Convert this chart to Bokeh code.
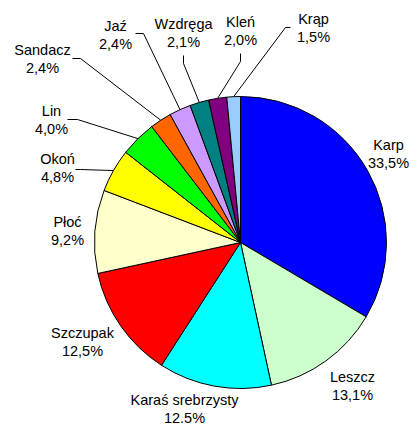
import math
from bokeh.plotting import figure
from bokeh.models import ColumnDataSource
from bokeh.core.properties import value
from bokeh.embed import file_html
from bokeh.resources import INLINE

# ---- data ----
species = ["Karp", "Leszcz", "Karaś srebrzysty", "Szczupak", "Płoć", "Okoń",
           "Lin", "Sandacz", "Jaź", "Wzdręga", "Kleń", "Krąp"]
shares = [33.5, 13.1, 12.5, 12.5, 9.2, 4.8, 4.0, 2.4, 2.4, 2.1, 2.0, 1.5]
pct_labels = ["33,5%", "13,1%", "12.5%", "12,5%", "9,2%", "4,8%",
              "4,0%", "2,4%", "2,4%", "2,1%", "2,0%", "1,5%"]
colors = ["#0000FF", "#CCFFCC", "#00FFFF", "#FF0000", "#FFFFCC", "#FFFF00",
          "#00FF00", "#FF6600", "#CC99FF", "#008080", "#800080", "#99CCFF"]

# ---- layout (page pixel coordinates) ----
W, H = 411, 425
CX, CY, R = 240, 242, 146
label_pos = [(388, 144), (352, 376), (184, 399), (82, 332), (67, 221), (57, 158),
             (51, 110), (42, 49), (115, 25), (183, 23), (240, 21), (313, 18)]
LINE_GAP = 18
# leader line starting segments near labels (None = no leader)
leader_start = [None, None, None, None, None,
                [(75, 169), (80, 169)],
                [(67, 119), (77, 119)],
                [(72, 58), (80, 58)],
                [(135, 33), (143, 33)],
                [(183, 55), (183, 63)],
                [(240, 53), (240, 61)],
                [(290, 27), (285, 27)]]


def Y(py):
    return H - py


total = sum(shares)
starts, ends, mids = [], [], []
acc = 0.0
for s in shares:
    f0 = acc / total
    acc += s
    f1 = acc / total
    starts.append(math.pi / 2 - 2 * math.pi * f0)
    ends.append(math.pi / 2 - 2 * math.pi * f1)
    mids.append((f0 + f1) / 2)

p = figure(width=W, height=H, x_range=(0, W), y_range=(0, H),
           output_backend="svg", toolbar_location=None, min_border=0)
p.axis.visible = False
p.grid.visible = False
p.outline_line_color = None
p.background_fill_color = "white"

src = ColumnDataSource(dict(x=[CX] * len(shares), y=[Y(CY)] * len(shares),
                            start=starts, end=ends, color=colors))
p.wedge(x="x", y="y", radius=R, radius_units="screen", start_angle="start",
        end_angle="end", direction="clock", fill_color="color",
        line_color="black", line_width=1, source=src)

# leader lines
for i, seg in enumerate(leader_start):
    if seg is None:
        continue
    a = 2 * math.pi * mids[i]
    ex = CX + R * math.sin(a)
    ey = CY - R * math.cos(a)
    xs = [pt[0] for pt in seg] + [ex]
    ys = [Y(pt[1]) for pt in seg] + [Y(ey)]
    p.line(xs, ys, line_color="black", line_width=1)

font = value("Liberation Sans")
p.text(x=[lp[0] for lp in label_pos], y=[Y(lp[1]) for lp in label_pos], text=species,
       text_align="center", text_baseline="middle", text_font=font,
       text_font_size="14.5px", text_color="black")
p.text(x=[lp[0] for lp in label_pos], y=[Y(lp[1] + LINE_GAP) for lp in label_pos],
       text=pct_labels, text_align="center", text_baseline="middle", text_font=font,
       text_font_size="14.5px", text_color="black")

open("out.html", "w").write(file_html(p, INLINE))
